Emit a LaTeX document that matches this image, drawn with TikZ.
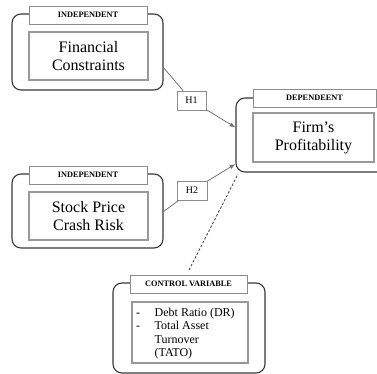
\documentclass[tikz,border=0pt]{standalone}
\usepackage{fontspec}
\setmainfont{Liberation Serif}
\usetikzlibrary{arrows.meta}
\begin{document}
\begin{tikzpicture}[x=1pt,y=-1pt,
  outerbox/.style={draw=black!78, line width=1.1pt, rounded corners=9pt, inner sep=0pt},
  labelbox/.style={draw=black!45, line width=0.9pt, fill=white, inner sep=0pt, minimum height=18pt,
    font=\fontsize{8.3}{9}\selectfont\bfseries},
  innerbox/.style={draw=black!40, line width=1.4pt, fill=white, inner sep=0pt, align=center,
    font=\fontsize{16}{18}\selectfont},
  hbox/.style={draw=black!45, line width=0.9pt, fill=white, inner sep=0pt, minimum height=19pt,
    font=\fontsize{10}{11}\selectfont},
  conn/.style={draw=black!55, line width=0.8pt},
  tip/.style={-{Latex[length=6pt,width=4.5pt]}},
  ctrl/.style={draw=black!70, line width=0.9pt, dash pattern=on 2.5pt off 1.8pt},
]
\useasboundingbox (0,0) rectangle (377,374);
\clip (0,0) rectangle (377,374);

% Independent 1
\node[outerbox, minimum width=151pt, minimum height=76pt] (o1) at (87.5,52) {};
\node[labelbox, minimum width=118pt] (l1) at (88,15) {INDEPENDENT};
\node[innerbox, minimum width=119pt, minimum height=48pt] (fc) at (88.5,56) {Financial\\Constraints};

% Independent 2
\node[outerbox, minimum width=151pt, minimum height=74pt] (o2) at (87.5,211) {};
\node[labelbox, minimum width=118pt] (l2) at (88,175) {INDEPENDENT};
\node[innerbox, minimum width=119pt, minimum height=48pt] (sp) at (88.5,216) {Stock Price\\Crash Risk};

% Dependent
\node[outerbox, minimum width=154pt, minimum height=74pt] (o3) at (313,135) {};
\node[labelbox, minimum width=123pt] (l3) at (314.5,98) {DEPENDEENT};
\node[innerbox, minimum width=121pt, minimum height=49pt] (fp) at (313.5,137.5) {Firm's\\Profitability};

% Control
\node[outerbox, minimum width=152pt, minimum height=90pt] (o4) at (189,328) {};
\node[labelbox, minimum width=117pt] (l4) at (188.5,284) {CONTROL VARIABLE};
\node[innerbox, minimum width=116pt, minimum height=61pt] (cv) at (190,332.5) {};
\node[anchor=base west, inner sep=0pt, font=\fontsize{12}{13.5}\selectfont] (cvt) at (136,316)
  {\begin{tabular}[t]{@{}l@{\hspace{14.5pt}}l@{}}
   - & Debt Ratio (DR)\\
   - & Total Asset\\
     & Turnover\\
     & (TATO)
   \end{tabular}};

% Hypothesis boxes
\node[hbox, minimum width=29pt] (h1) at (191.5,100.5) {H1};
\node[hbox, minimum width=30pt] (h2) at (192,190.5) {H2};

% Connectors
\coordinate (c1) at (163,67);
\coordinate (c2) at (163,212);
\coordinate (t1) at (235.5,127.5);
\coordinate (t2) at (235.5,164);
\coordinate (d1) at (189,270);
\coordinate (d2) at (238,174);

\draw[conn] (c1) -- (h1);
\draw[conn, tip] (h1) -- (t1);
\draw[conn] (c2) -- (h2);
\draw[conn, tip] (h2) -- (t2);
\draw[ctrl] (d1) -- (d2);
\end{tikzpicture}
\end{document}
